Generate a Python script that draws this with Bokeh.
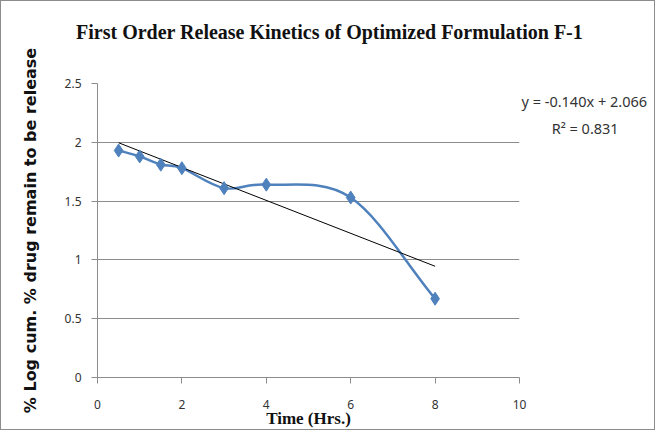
import numpy as np
from bokeh.plotting import figure
from bokeh.models import FixedTicker, Range1d, LinearAxis
from bokeh.embed import file_html
from bokeh.resources import INLINE

time_hrs = [0.5, 1, 1.5, 2, 3, 4, 6, 8]
log_remain = [1.93, 1.88, 1.81, 1.78, 1.61, 1.64, 1.53, 0.67]
slope = -0.140
intercept = 2.066
r_squared = 0.831
x_ticks = [0, 2, 4, 6, 8, 10]
y_ticks = [0, 0.5, 1, 1.5, 2, 2.5]
title_text = "First Order Release Kinetics of Optimized Formulation F-1"
x_label = "Time (Hrs.)"
y_label = "% Log cum. % drug remain to be release"
eq_text = f"y = {slope:.3f}x + {intercept:.3f}"
r2_text = "\u00a0" * 8 + "R\u00b2 = " + f"{r_squared:.3f}"

BLUE = "#4F81BD"
GRID = "#8c8c8c"

p = figure(width=655, height=430, output_backend="svg", toolbar_location=None,
           x_range=Range1d(0, 10), y_range=Range1d(0, 2.5),
           min_border_left=96, min_border_right=137, min_border_top=82, min_border_bottom=54)
p.styles = {"border": "1px solid #8c8c8c"}
p.outline_line_color = None
p.background_fill_color = "white"
p.xgrid.grid_line_color = None
p.ygrid.grid_line_color = GRID
p.ygrid.grid_line_width = 1

# axes
for ax in (p.xaxis, p.yaxis):
    ax.axis_line_color = GRID
    ax.major_tick_line_color = GRID
    ax.minor_tick_line_color = None
    ax.major_tick_in = 0
    ax.major_tick_out = 6
    ax.major_label_text_font = "Noto Sans"
    ax.major_label_text_font_size = "12px"
    ax.major_label_text_color = "#333333"
p.xaxis.ticker = FixedTicker(ticks=x_ticks)
p.yaxis.ticker = FixedTicker(ticks=y_ticks)
p.xaxis.major_label_standoff = 16
p.yaxis.major_label_standoff = 10

p.xaxis.axis_label = x_label
p.xaxis.axis_label_text_font = "Liberation Serif"
p.xaxis.axis_label_text_font_size = "17px"
p.xaxis.axis_label_text_font_style = "bold"
p.xaxis.axis_label_text_color = "#111111"
p.xaxis.axis_label_standoff = -3

p.yaxis.axis_label = y_label
p.yaxis.axis_label_text_font = "DejaVu Sans"
p.yaxis.axis_label_text_font_size = "16px"
p.yaxis.axis_label_text_font_style = "bold"
p.yaxis.axis_label_text_color = "#111111"
p.yaxis.axis_label_standoff = 22

# title drawn as the single label of a bare axis above the frame
title_x = 5.5
title_axis = LinearAxis(ticker=FixedTicker(ticks=[title_x]),
                        major_label_overrides={title_x: title_text},
                        axis_line_color=None, major_tick_line_color=None,
                        minor_tick_line_color=None, major_tick_out=0, major_tick_in=0,
                        major_label_standoff=41,
                        major_label_text_font="Liberation Serif",
                        major_label_text_font_size="20px",
                        major_label_text_font_style="bold",
                        major_label_text_color="#111111")
p.add_layout(title_axis, "above")

# trendline equation drawn as labels of a bare axis right of the frame
eq_y = 2.35
r2_y = 2.12
eq_axis = LinearAxis(ticker=FixedTicker(ticks=[eq_y, r2_y]),
                     major_label_overrides={eq_y: eq_text, r2_y: r2_text},
                     axis_line_color=None, major_tick_line_color=None,
                     minor_tick_line_color=None, major_tick_out=0, major_tick_in=0,
                     major_label_standoff=2,
                     major_label_text_font="Noto Sans",
                     major_label_text_font_size="14.5px",
                     major_label_text_color="#333333")
p.add_layout(eq_axis, "right")

# smoothed line (Bezier segments, Catmull-Rom style control points)
x = np.array(time_hrs, dtype=float)
y = np.array(log_remain, dtype=float)
n = len(x)
t = 1.0 / 6.0
tx = np.zeros(n); ty = np.zeros(n)
for i in range(n):
    a = max(i - 1, 0); b = min(i + 1, n - 1)
    tx[i] = (x[b] - x[a]); ty[i] = (y[b] - y[a])
    if i == 0 or i == n - 1:
        tx[i] *= 2; ty[i] *= 2
p.bezier(x0=x[:-1], y0=y[:-1], x1=x[1:], y1=y[1:],
         cx0=x[:-1] + t * tx[:-1], cy0=y[:-1] + t * ty[:-1],
         cx1=x[1:] - t * tx[1:], cy1=y[1:] - t * ty[1:],
         line_color=BLUE, line_width=2.5)

# trend line
tx_line = np.array([time_hrs[0], time_hrs[-1]])
p.line(tx_line, slope * tx_line + intercept, line_color="black", line_width=1)

# markers
p.scatter(time_hrs, log_remain, marker="diamond", size=13,
          fill_color=BLUE, line_color=BLUE)

open("out.html", "w").write(file_html(p, INLINE))
